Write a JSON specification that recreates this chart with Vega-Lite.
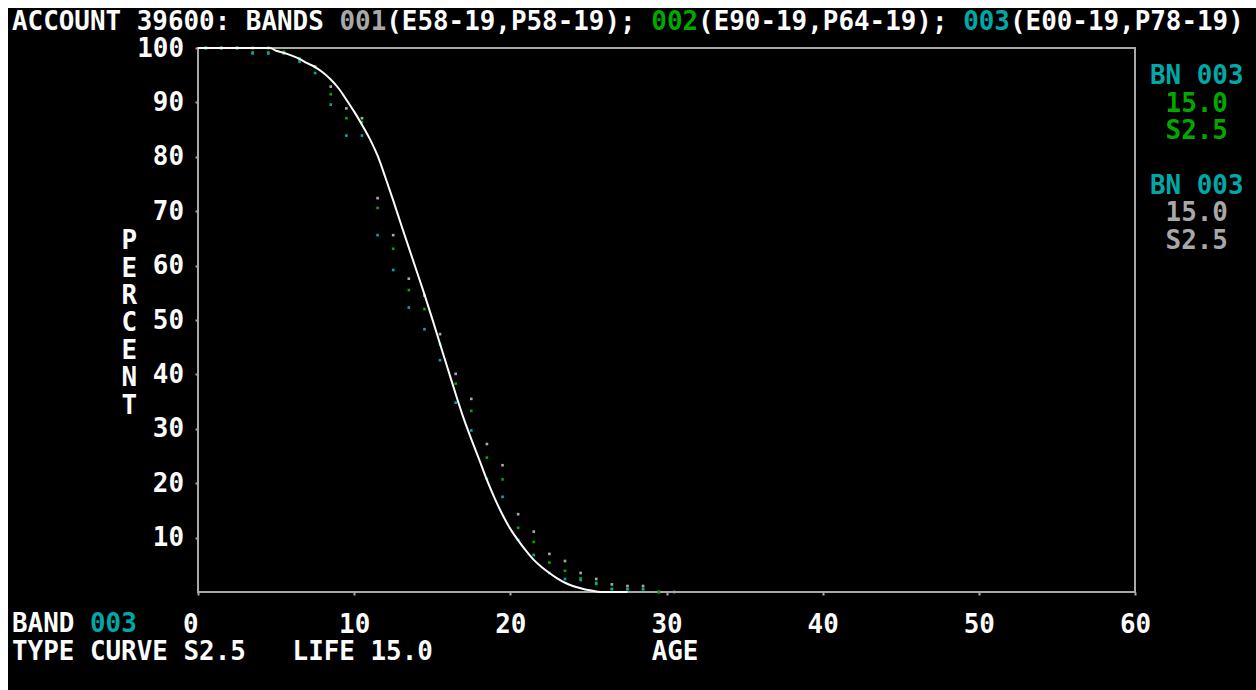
{
  "$schema": "https://vega.github.io/schema/vega-lite/v6.json",
  "width": 937,
  "height": 544,
  "autosize": {"type": "none"},
  "padding": {"left": 198, "top": 48, "right": 121, "bottom": 98},
  "background": "#000000",
  "config": {
    "view": {"stroke": "#a8a8a8", "strokeWidth": 2},
    "axis": {
      "grid": false, "domain": false,
      "tickColor": "#a8a8a8", "tickSize": 3, "tickWidth": 2,
      "labelColor": "#fcfcfc", "labelFont": "DejaVu Sans Mono", "labelFontSize": 25.9, "labelFontWeight": "bold",
      "titleColor": "#fcfcfc", "titleFont": "DejaVu Sans Mono", "titleFontSize": 25.9, "titleFontWeight": "bold"
    },
    "text": {"font": "DejaVu Sans Mono", "fontSize": 25.9, "fontWeight": "bold", "align": "left", "baseline": "top", "lineHeight": 27.4}
  },
  "datasets": {
    "survivors": [
      {"band": "001", "age": 0.5, "pct": 100}, {"band": "001", "age": 1.5, "pct": 100}, {"band": "001", "age": 2.5, "pct": 100},
      {"band": "001", "age": 3.5, "pct": 100}, {"band": "001", "age": 4.5, "pct": 100}, {"band": "001", "age": 5.5, "pct": 99.1},
      {"band": "001", "age": 6.5, "pct": 98.0}, {"band": "001", "age": 7.5, "pct": 96.6}, {"band": "001", "age": 8.5, "pct": 92.9},
      {"band": "001", "age": 9.5, "pct": 88.9}, {"band": "001", "age": 10.5, "pct": 87.1}, {"band": "001", "age": 11.5, "pct": 72.4},
      {"band": "001", "age": 12.5, "pct": 65.6}, {"band": "001", "age": 13.5, "pct": 57.6}, {"band": "001", "age": 14.5, "pct": 54.5},
      {"band": "001", "age": 15.5, "pct": 47.4}, {"band": "001", "age": 16.5, "pct": 40.1}, {"band": "001", "age": 17.5, "pct": 35.5},
      {"band": "001", "age": 18.5, "pct": 27.2}, {"band": "001", "age": 19.5, "pct": 23.3}, {"band": "001", "age": 20.5, "pct": 14.3},
      {"band": "001", "age": 21.5, "pct": 11.1}, {"band": "001", "age": 22.5, "pct": 7.0}, {"band": "001", "age": 23.5, "pct": 5.7},
      {"band": "001", "age": 24.5, "pct": 3.5}, {"band": "001", "age": 25.5, "pct": 2.4}, {"band": "001", "age": 26.5, "pct": 1.4},
      {"band": "001", "age": 27.5, "pct": 1.1}, {"band": "001", "age": 28.5, "pct": 1.1}, {"band": "001", "age": 29.5, "pct": 0},
      {"band": "001", "age": 30.5, "pct": 0},
      {"band": "002", "age": 0.5, "pct": 100}, {"band": "002", "age": 1.5, "pct": 100}, {"band": "002", "age": 2.5, "pct": 100},
      {"band": "002", "age": 3.5, "pct": 99.2}, {"band": "002", "age": 4.5, "pct": 99.2}, {"band": "002", "age": 5.5, "pct": 99.3},
      {"band": "002", "age": 6.5, "pct": 97.9}, {"band": "002", "age": 7.5, "pct": 96.5}, {"band": "002", "age": 8.5, "pct": 91.5},
      {"band": "002", "age": 9.5, "pct": 87.1}, {"band": "002", "age": 10.5, "pct": 86.4}, {"band": "002", "age": 11.5, "pct": 70.6},
      {"band": "002", "age": 12.5, "pct": 63.1}, {"band": "002", "age": 13.5, "pct": 55.5}, {"band": "002", "age": 14.5, "pct": 52.0},
      {"band": "002", "age": 15.5, "pct": 45.5}, {"band": "002", "age": 16.5, "pct": 38.3}, {"band": "002", "age": 17.5, "pct": 33.3},
      {"band": "002", "age": 18.5, "pct": 24.7}, {"band": "002", "age": 19.5, "pct": 20.7}, {"band": "002", "age": 20.5, "pct": 11.8},
      {"band": "002", "age": 21.5, "pct": 9.2}, {"band": "002", "age": 22.5, "pct": 5.4}, {"band": "002", "age": 23.5, "pct": 3.9},
      {"band": "002", "age": 24.5, "pct": 2.5}, {"band": "002", "age": 25.5, "pct": 1.7}, {"band": "002", "age": 26.5, "pct": 0.6},
      {"band": "002", "age": 27.5, "pct": 0.6}, {"band": "002", "age": 28.5, "pct": 0.6}, {"band": "002", "age": 29.5, "pct": 0},
      {"band": "003", "age": 0.5, "pct": 100}, {"band": "003", "age": 1.5, "pct": 100}, {"band": "003", "age": 2.5, "pct": 100},
      {"band": "003", "age": 3.5, "pct": 99.0}, {"band": "003", "age": 4.5, "pct": 99.0}, {"band": "003", "age": 5.5, "pct": 99.0},
      {"band": "003", "age": 6.5, "pct": 97.5}, {"band": "003", "age": 7.5, "pct": 95.4}, {"band": "003", "age": 8.5, "pct": 89.6},
      {"band": "003", "age": 9.5, "pct": 83.9}, {"band": "003", "age": 10.5, "pct": 83.9}, {"band": "003", "age": 11.5, "pct": 65.6},
      {"band": "003", "age": 12.5, "pct": 59.2}, {"band": "003", "age": 13.5, "pct": 52.3}, {"band": "003", "age": 14.5, "pct": 48.3},
      {"band": "003", "age": 15.5, "pct": 42.6}, {"band": "003", "age": 16.5, "pct": 34.8}, {"band": "003", "age": 17.5, "pct": 29.7},
      {"band": "003", "age": 18.5, "pct": 20.8}, {"band": "003", "age": 19.5, "pct": 17.5}, {"band": "003", "age": 20.5, "pct": 9.6},
      {"band": "003", "age": 21.5, "pct": 6.8}, {"band": "003", "age": 22.5, "pct": 3.5}, {"band": "003", "age": 23.5, "pct": 2.4},
      {"band": "003", "age": 24.5, "pct": 2.2}, {"band": "003", "age": 25.5, "pct": 1.5}, {"band": "003", "age": 26.5, "pct": 0.5},
      {"band": "003", "age": 27.5, "pct": 0.5}, {"band": "003", "age": 28.5, "pct": 0.5}
    ],
    "curve": [
      {"age": 0, "pct": 100}, {"age": 4.6, "pct": 100}, {"age": 5, "pct": 99.5}, {"age": 5.5, "pct": 99.1},
      {"age": 6, "pct": 98.6}, {"age": 6.5, "pct": 98.0}, {"age": 7, "pct": 97.2}, {"age": 7.5, "pct": 96.5},
      {"age": 8, "pct": 95.5}, {"age": 8.5, "pct": 94.2}, {"age": 9, "pct": 92.6}, {"age": 9.5, "pct": 90.5},
      {"age": 10, "pct": 88.3}, {"age": 10.5, "pct": 85.9}, {"age": 11, "pct": 83.3}, {"age": 11.5, "pct": 80.2},
      {"age": 12, "pct": 76.2}, {"age": 12.5, "pct": 72.0}, {"age": 13, "pct": 67.6}, {"age": 13.5, "pct": 63.3},
      {"age": 14, "pct": 59.0}, {"age": 14.5, "pct": 54.7}, {"age": 15, "pct": 50.2}, {"age": 15.5, "pct": 45.6},
      {"age": 16, "pct": 41.0}, {"age": 16.5, "pct": 36.4}, {"age": 17, "pct": 32.0}, {"age": 17.5, "pct": 28.1},
      {"age": 18, "pct": 24.4}, {"age": 18.5, "pct": 20.6}, {"age": 19, "pct": 17.2}, {"age": 19.5, "pct": 14.2},
      {"age": 20, "pct": 11.6}, {"age": 20.5, "pct": 9.5}, {"age": 21, "pct": 7.6}, {"age": 21.5, "pct": 5.9},
      {"age": 22, "pct": 4.6}, {"age": 22.5, "pct": 3.5}, {"age": 23, "pct": 2.5}, {"age": 23.5, "pct": 1.7},
      {"age": 24, "pct": 1.1}, {"age": 24.5, "pct": 0.7}, {"age": 25, "pct": 0.35}, {"age": 25.5, "pct": 0.1},
      {"age": 26, "pct": 0}, {"age": 27.5, "pct": 0}
    ]
  },
  "layer": [
    {
      "data": {"name": "survivors"},
      "mark": {"type": "square", "size": 7, "opacity": 1},
      "encoding": {
        "x": {
          "field": "age", "type": "quantitative",
          "scale": {"domain": [0, 60], "nice": false, "zero": false},
          "axis": {
            "values": [0, 10, 20, 30, 40, 50, 60],
            "labelFlush": false, "labelOverlap": false, "labelPadding": 17,
            "labelAlign": {"condition": {"test": "datum.value === 0", "value": "right"}, "value": "center"},
            "title": "AGE", "titleAnchor": "start", "titleAlign": "left", "titleBaseline": "top",
            "titleX": 453.2, "titleY": 47.7
          }
        },
        "y": {
          "field": "pct", "type": "quantitative",
          "scale": {"domain": [0, 100], "nice": false, "zero": false},
          "axis": {
            "values": [10, 20, 30, 40, 50, 60, 70, 80, 90, 100],
            "labelFlush": false, "labelOverlap": false, "labelPadding": 11.5,
            "title": ["P", "E", "R", "C", "E", "N", "T"], "titleAngle": 0, "titleAlign": "center",
            "titleBaseline": "top", "titleX": -69.1, "titleY": 180.7, "titleLineHeight": 27.4
          }
        },
        "color": {
          "field": "band", "type": "nominal",
          "scale": {"domain": ["001", "002", "003"], "range": ["#a8a8a8", "#00a800", "#00a8a8"]},
          "legend": null
        }
      }
    },
    {
      "data": {"name": "curve"},
      "mark": {"type": "line", "color": "#fcfcfc", "strokeWidth": 2, "interpolate": "monotone"},
      "encoding": {
        "x": {"field": "age", "type": "quantitative"},
        "y": {"field": "pct", "type": "quantitative"}
      }
    },
    {
      "data": {"values": [{}]},
      "mark": {"type": "text", "text": "ACCOUNT 39600: BANDS", "color": "#fcfcfc"},
      "encoding": {"x": {"datum": -11.91, "type": "quantitative"}, "y": {"datum": 107.07, "type": "quantitative"}}
    },
    {
      "data": {"values": [{}]},
      "mark": {"type": "text", "text": "001", "color": "#a8a8a8"},
      "encoding": {"x": {"datum": 9.058, "type": "quantitative"}, "y": {"datum": 107.07, "type": "quantitative"}}
    },
    {
      "data": {"values": [{}]},
      "mark": {"type": "text", "text": "(E58-19,P58-19);", "color": "#fcfcfc"},
      "encoding": {"x": {"datum": 12.053, "type": "quantitative"}, "y": {"datum": 107.07, "type": "quantitative"}}
    },
    {
      "data": {"values": [{}]},
      "mark": {"type": "text", "text": "002", "color": "#00a800"},
      "encoding": {"x": {"datum": 29.027, "type": "quantitative"}, "y": {"datum": 107.07, "type": "quantitative"}}
    },
    {
      "data": {"values": [{}]},
      "mark": {"type": "text", "text": "(E90-19,P64-19);", "color": "#fcfcfc"},
      "encoding": {"x": {"datum": 32.023, "type": "quantitative"}, "y": {"datum": 107.07, "type": "quantitative"}}
    },
    {
      "data": {"values": [{}]},
      "mark": {"type": "text", "text": "003", "color": "#00a8a8"},
      "encoding": {"x": {"datum": 48.997, "type": "quantitative"}, "y": {"datum": 107.07, "type": "quantitative"}}
    },
    {
      "data": {"values": [{}]},
      "mark": {"type": "text", "text": "(E00-19,P78-19)", "color": "#fcfcfc"},
      "encoding": {"x": {"datum": 51.993, "type": "quantitative"}, "y": {"datum": 107.07, "type": "quantitative"}}
    },
    {
      "data": {"values": [{}]},
      "mark": {"type": "text", "text": "BN 003", "color": "#00a8a8"},
      "encoding": {"x": {"datum": 60.96, "type": "quantitative"}, "y": {"datum": 97.0, "type": "quantitative"}}
    },
    {
      "data": {"values": [{}]},
      "mark": {"type": "text", "text": "BN 003", "color": "#00a8a8"},
      "encoding": {"x": {"datum": 60.96, "type": "quantitative"}, "y": {"datum": 76.89, "type": "quantitative"}}
    },
    {
      "data": {"values": [{}]},
      "mark": {"type": "text", "text": ["15.0", "S2.5"], "color": "#00a800"},
      "encoding": {"x": {"datum": 61.96, "type": "quantitative"}, "y": {"datum": 91.97, "type": "quantitative"}}
    },
    {
      "data": {"values": [{}]},
      "mark": {"type": "text", "text": ["15.0", "S2.5"], "color": "#a8a8a8"},
      "encoding": {"x": {"datum": 61.96, "type": "quantitative"}, "y": {"datum": 71.82, "type": "quantitative"}}
    },
    {
      "data": {"values": [{}]},
      "mark": {"type": "text", "text": "BAND", "color": "#fcfcfc"},
      "encoding": {"x": {"datum": -11.91, "type": "quantitative"}, "y": {"datum": -3.73, "type": "quantitative"}}
    },
    {
      "data": {"values": [{}]},
      "mark": {"type": "text", "text": "003", "color": "#00a8a8"},
      "encoding": {"x": {"datum": -6.918, "type": "quantitative"}, "y": {"datum": -3.73, "type": "quantitative"}}
    },
    {
      "data": {"values": [{}]},
      "mark": {"type": "text", "text": "TYPE CURVE S2.5\u00a0\u00a0\u00a0LIFE 15.0", "color": "#fcfcfc"},
      "encoding": {"x": {"datum": -11.91, "type": "quantitative"}, "y": {"datum": -8.77, "type": "quantitative"}}
    },
    {
      "data": {"values": [{}]},
      "mark": {"type": "rect", "color": "#ffffff", "opacity": 1},
      "encoding": {
        "x": {"datum": -13.5, "type": "quantitative"}, "x2": {"datum": 70},
        "y": {"datum": 107.35, "type": "quantitative"}, "y2": {"datum": 112}
      }
    },
    {
      "data": {"values": [{}]},
      "mark": {"type": "rect", "color": "#ffffff", "opacity": 1},
      "encoding": {
        "x": {"datum": -13.5, "type": "quantitative"}, "x2": {"datum": -12.166},
        "y": {"datum": -22, "type": "quantitative"}, "y2": {"datum": 112}
      }
    }
  ]
}
